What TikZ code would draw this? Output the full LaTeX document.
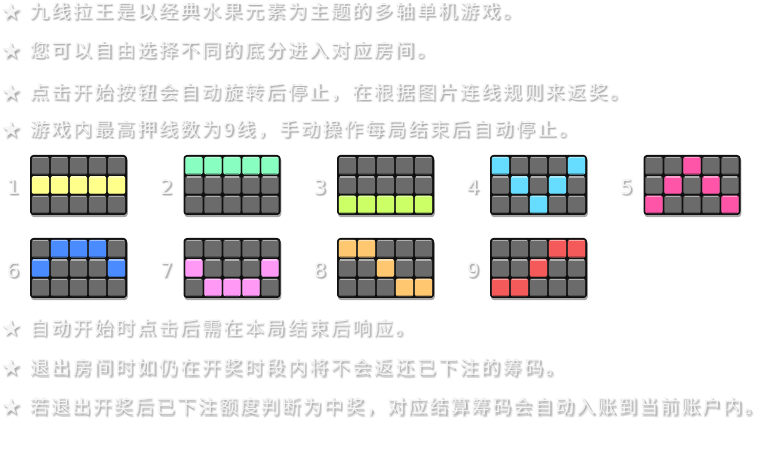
\documentclass[tikz,border=0pt]{standalone}
\usepackage{fontspec}
\newfontfamily\cjkfont[LetterSpace=13.5]{Noto Sans CJK SC}
\newfontfamily\cjkfontb[LetterSpace=11]{Noto Sans CJK SC}
\newfontfamily\djfont{DejaVu Sans}
\definecolor{gridblack}{HTML}{111111}
\definecolor{cellgray}{HTML}{6B6B6B}
\definecolor{textfill}{HTML}{F5F5F5}
\definecolor{shadowgray}{HTML}{8A8A8A}
\definecolor{cA}{HTML}{FFFF8C}
\definecolor{cB}{HTML}{88FFC0}
\definecolor{cC}{HTML}{CCFF66}
\definecolor{cD}{HTML}{66DDFF}
\definecolor{cE}{HTML}{FF55A8}
\definecolor{cF}{HTML}{4A8CFF}
\definecolor{cG}{HTML}{FF99F5}
\definecolor{cH}{HTML}{FFC870}
\definecolor{cI}{HTML}{F55A5A}
\tikzset{
  txt/.style={anchor=base west, inner sep=0pt, text=textfill},
  txtsh/.style={anchor=base west, inner sep=0pt, text=shadowgray},
  gridbg/.style={fill=gridblack, rounded corners=2.5pt, minimum width=72.75pt, minimum height=45pt, inner sep=0pt},
  numlbl/.style={inner sep=0pt, text=textfill, font=\djfont\fontsize{15pt}{15pt}\selectfont},
  numsh/.style={inner sep=0pt, text=shadowgray, font=\djfont\fontsize{15pt}{15pt}\selectfont},
  starsty/.style={inner sep=0pt, font=\djfont\fontsize{17pt}{17pt}\selectfont},
}
\newcommand\shadowlist{0.5/1/0.25,1.5/1.5/0.3,2.5/2.5/0.15,1/2.5/0.2,2/0.8/0.2}
% shadowed text line: #1 name, #2 baseline y, #3 font, #4 text
\newcommand\shline[4]{%
  \foreach \dx/\dy/\op in \shadowlist{%
    \node[txtsh, opacity=\op] at (30+\dx,#2+\dy) {#3\fontsize{14.2pt}{14.5pt}\selectfont #4};
    \node[starsty, text=shadowgray, opacity=\op] at (11+\dx,#2-7+\dy) {★};
  }
  \node[txt] (#1) at (30,#2) {#3\fontsize{14.2pt}{14.5pt}\selectfont #4};
  \node[starsty, text=textfill] (#1s) at (11,#2-7) {★};
}
% one cell: #1 x0, #2 y0, #3 col, #4 row, #5 colour
\newcommand\slotcell[5]{%
  \fill[#5, rounded corners=1.5pt] (#1+1.8+#3*19.04-19.04,#2+1.8+#4*19.4-19.4) rectangle ++(17.24,17.6);
  \draw[#5!55!white, line width=0.9pt] (#1+3.3+#3*19.04-19.04,#2+2.6+#4*19.4-19.4) -- ++(14.2,0);
  \draw[#5!75!black, line width=0.6pt] (#1+3.3+#3*19.04-19.04,#2+18.9+#4*19.4-19.4) -- ++(14.2,0);
}
% grid: #1 name, #2 x0, #3 y0, #4 colour, #5 list col/row, #6 number
\newcommand\slotgrid[6]{%
  \fill[black, opacity=0.35, rounded corners=2.5pt] (#2+0.8,#3+2.2) rectangle ++(97,60);
  \node[gridbg] (#1) at (#2+48.5,#3+30) {};
  \foreach \cc in {1,...,5}{\foreach \rr in {1,2,3}{\slotcell{#2}{#3}{\cc}{\rr}{cellgray}}}
  \foreach \cc/\rr in {#5}{\slotcell{#2}{#3}{\cc}{\rr}{#4}}
  \foreach \dx/\dy/\op in \shadowlist{%
    \node[numsh, opacity=\op] at (#2-17+\dx,#3+32+\dy) {#6};}
  \node[numlbl] (#1n) at (#2-17,#3+32) {#6};
}
\begin{document}
\begin{tikzpicture}[x=0.75pt,y=-0.75pt]
\useasboundingbox (0,0) rectangle (771,463);
\fill[white] (0,0) rectangle (771,463);
\shline{l1}{18.5}{\cjkfont}{九线拉王是以经典水果元素为主题的多轴单机游戏。}
\shline{l2}{57.5}{\cjkfont}{您可以自由选择不同的底分进入对应房间。}
\shline{l3}{99.5}{\cjkfont}{点击开始按钮会自动旋转后停止，在根据图片连线规则来返奖。}
\shline{l4}{136.5}{\cjkfont}{游戏内最高押线数为9线，手动操作每局结束后自动停止。}
\shline{l5}{335}{\cjkfont}{自动开始时点击后需在本局结束后响应。}
\shline{l6}{374.5}{\cjkfont}{退出房间时如仍在开奖时段内将不会返还已下注的筹码。}
\shline{l7}{413.5}{\cjkfontb}{若退出开奖后已下注额度判断为中奖，对应结算筹码会自动入账到当前账户内。\kern-0.45em}
\slotgrid{g1}{30}{155}{cA}{1/2,2/2,3/2,4/2,5/2}{1}
\slotgrid{g2}{183.5}{155}{cB}{1/1,2/1,3/1,4/1,5/1}{2}
\slotgrid{g3}{337}{155}{cC}{1/3,2/3,3/3,4/3,5/3}{3}
\slotgrid{g4}{490}{155}{cD}{1/1,5/1,2/2,4/2,3/3}{4}
\slotgrid{g5}{643.5}{155}{cE}{3/1,2/2,4/2,1/3,5/3}{5}
\slotgrid{g6}{30}{238}{cF}{2/1,3/1,4/1,1/2,5/2}{6}
\slotgrid{g7}{183.5}{238}{cG}{1/2,5/2,2/3,3/3,4/3}{7}
\slotgrid{g8}{337}{238}{cH}{1/1,2/1,3/2,4/3,5/3}{8}
\slotgrid{g9}{490}{238}{cI}{4/1,5/1,3/2,1/3,2/3}{9}
\end{tikzpicture}
\end{document}
